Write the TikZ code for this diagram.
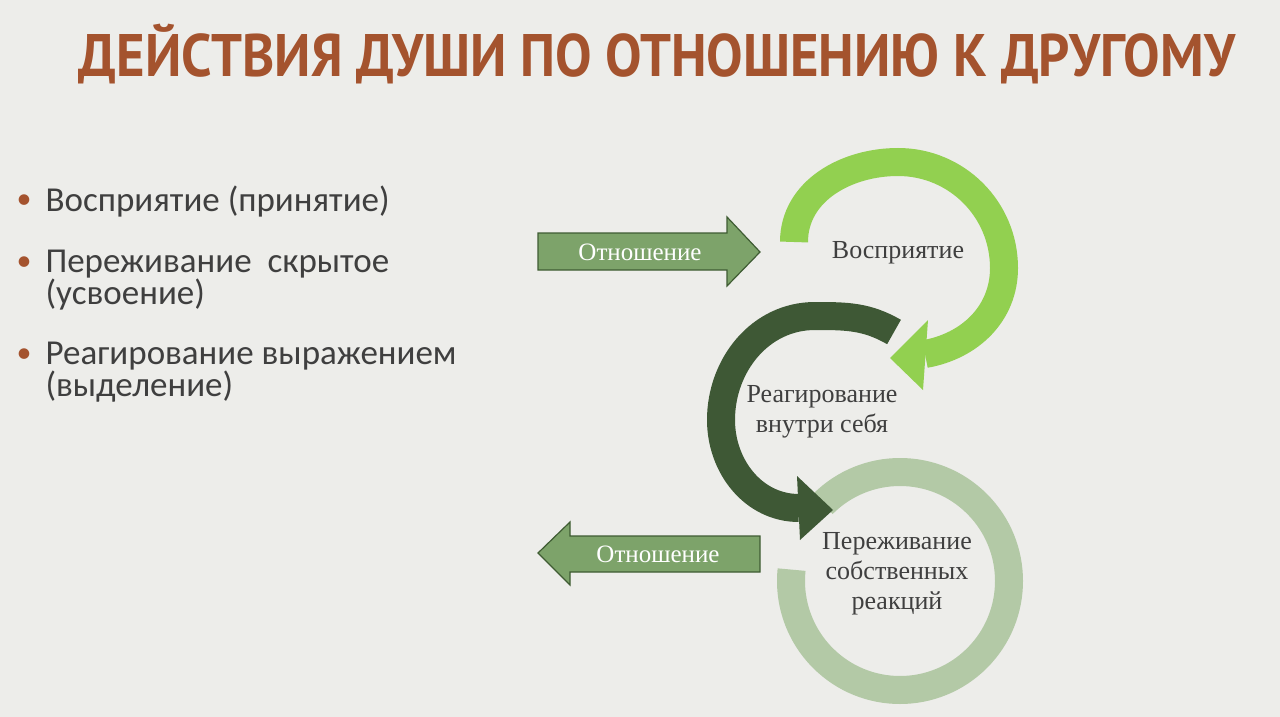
\documentclass[tikz,border=0pt]{standalone}
\usepackage{fontspec}
\setmainfont{Liberation Serif}
\newfontfamily\titlefont{PT Sans}
\newfontfamily\bodyfont{Carlito}
\definecolor{bg}{HTML}{EDEDEA}
\definecolor{rust}{HTML}{A4532E}
\definecolor{gtxt}{HTML}{3F3F3F}
\definecolor{lg}{HTML}{92D050}
\definecolor{dg}{HTML}{3E5835}
\definecolor{pg}{HTML}{B3C9A6}
\definecolor{ab}{HTML}{7DA36A}
\definecolor{abd}{HTML}{3F5C33}
\begin{document}
\begin{tikzpicture}[x=1pt,y=-1pt,
  band/.style={line width=28pt},
  arr/.style={fill=ab,draw=abd,line width=1.2pt},
  lbl/.style={font=\fontsize{26}{30}\selectfont,text=gtxt,align=center},
  otxt/.style={font=\fontsize{25}{28}\selectfont,text=white},
  btxt/.style={font=\bodyfont\fontsize{35}{32}\selectfont,text=gtxt,anchor=west,align=left},
  bul/.style={font=\bodyfont\fontsize{30}{30}\selectfont,text=rust}]
\fill[bg] (0,0) rectangle (1280,717);
\useasboundingbox (0,0) rectangle (1280,717);
\node[font=\titlefont\bfseries\fontsize{60}{62}\selectfont,text=rust,xscale=0.91] (title) at (657,54) {ДЕЙСТВИЯ ДУШИ ПО ОТНОШЕНИЮ К ДРУГОМУ};
% bullets
\node[bul] (b1) at (24,202) {•}; \node[btxt] (t1) at (42,202) {Восприятие (принятие)};
\node[bul] (b2) at (24,264) {•}; \node[btxt] (t2) at (42,280) {Переживание\ \ скрытое\\(усвоение)};
\node[bul] (b3) at (24,356) {•}; \node[btxt] (t3) at (42,372) {Реагирование выражением\\(выделение)};
% ring 3 (pale)
\draw[band,draw=pg] (900,581) ++(-135:109) arc[start angle=-135,end angle=186,radius=109];
% ring 2 (dark)
\draw[band,draw=dg] (894,332) to[out=150,in=0] (815,316) to[out=180,in=90] (721,420) to[out=-90,in=180] (799,508);
\fill[dg] (797,476) -- (800,540) -- (833,510) -- cycle;
% ring 1 (light green)
\draw[band,draw=lg] (794,242) to[out=90,in=180] (898,162) to[out=0,in=90] (1004,268) to[out=-90,in=10] (925,354);
\fill[lg] (928,320) -- (923,390) -- (890,358) -- cycle;
% straight arrows
\draw[arr] (538,233) -- (727,233) -- (727,217) -- (760,252) -- (727,286) -- (727,270) -- (538,270) -- cycle;
\node[otxt] (o1) at (640,252) {Отношение};
\draw[arr] (760,536) -- (570,536) -- (570,522) -- (538,553) -- (570,585) -- (570,572) -- (760,572) -- cycle;
\node[otxt] (o2) at (658,554) {Отношение};
% labels
\node[lbl] (l1) at (898,253) {Восприятие};
\node[lbl] (l2) at (822,412) {Реагирование\\внутри себя};
\node[lbl] (l3) at (897,574) {Переживание\\собственных\\реакций};
\end{tikzpicture}
\end{document}
